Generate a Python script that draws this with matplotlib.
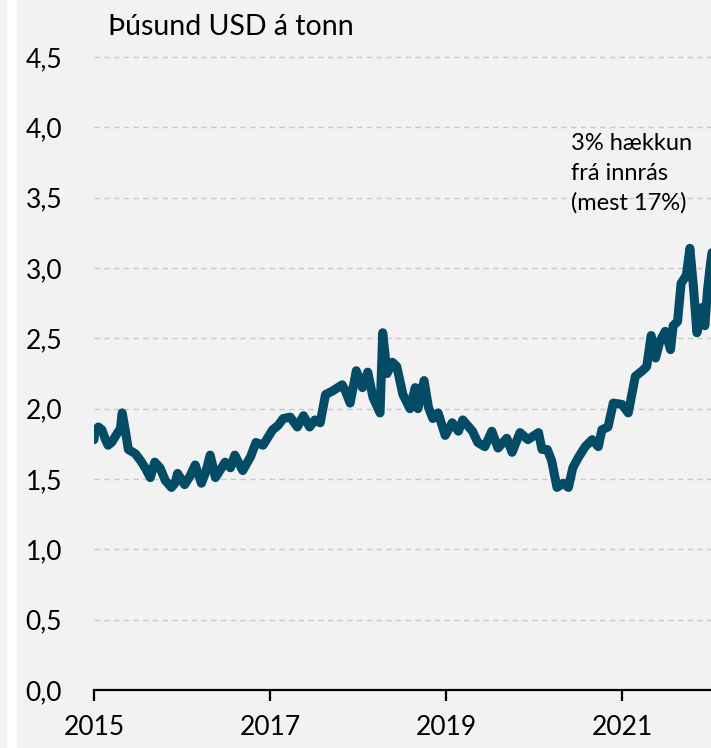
import matplotlib.pyplot as plt
from matplotlib.patches import Rectangle

# Aluminium price, thousand USD per tonne
years = [2015.00, 2015.01, 2015.05, 2015.09, 2015.13, 2015.16, 2015.20, 2015.27, 2015.30, 2015.32,
         2015.34, 2015.36, 2015.39, 2015.47, 2015.53, 2015.59, 2015.64, 2015.69, 2015.75, 2015.81,
         2015.88, 2015.92, 2015.95, 2016.03, 2016.09, 2016.15, 2016.22, 2016.27, 2016.32, 2016.38,
         2016.43, 2016.49, 2016.55, 2016.60, 2016.69, 2016.78, 2016.84, 2016.92, 2016.98, 2017.03,
         2017.09, 2017.15, 2017.23, 2017.31, 2017.38, 2017.45, 2017.51, 2017.57, 2017.63, 2017.72,
         2017.82, 2017.86, 2017.91, 2017.98, 2018.05, 2018.11, 2018.17, 2018.25, 2018.28, 2018.33,
         2018.39, 2018.44, 2018.51, 2018.59, 2018.65, 2018.68, 2018.75, 2018.80, 2018.85, 2018.91,
         2018.99, 2019.07, 2019.14, 2019.19, 2019.30, 2019.36, 2019.44, 2019.52, 2019.59, 2019.69,
         2019.75, 2019.84, 2019.93, 2020.05, 2020.09, 2020.15, 2020.20, 2020.26, 2020.33, 2020.39,
         2020.44, 2020.50, 2020.58, 2020.66, 2020.73, 2020.77, 2020.84, 2020.90, 2021.00, 2021.07,
         2021.15, 2021.23, 2021.28, 2021.33, 2021.38, 2021.43, 2021.49, 2021.55, 2021.58, 2021.63,
         2021.67, 2021.73, 2021.77, 2021.81, 2021.85, 2021.91, 2021.94, 2021.97, 2022.00, 2022.03]
price = [1.78, 1.84, 1.87, 1.85, 1.78, 1.74, 1.76, 1.83, 1.86, 1.97,
         1.90, 1.83, 1.71, 1.68, 1.63, 1.57, 1.51, 1.62, 1.58, 1.49,
         1.44, 1.47, 1.54, 1.46, 1.52, 1.60, 1.47, 1.55, 1.67, 1.51,
         1.56, 1.62, 1.58, 1.67, 1.56, 1.66, 1.76, 1.74, 1.80, 1.85,
         1.88, 1.93, 1.94, 1.87, 1.95, 1.87, 1.92, 1.90, 2.10, 2.13,
         2.17, 2.12, 2.04, 2.27, 2.15, 2.26, 2.08, 1.97, 2.54, 2.25,
         2.33, 2.30, 2.10, 2.00, 2.15, 2.00, 2.20, 2.01, 1.93, 1.97,
         1.81, 1.90, 1.84, 1.92, 1.84, 1.76, 1.73, 1.84, 1.72, 1.79,
         1.69, 1.83, 1.78, 1.83, 1.71, 1.71, 1.63, 1.44, 1.47, 1.44,
         1.58, 1.65, 1.73, 1.78, 1.73, 1.85, 1.87, 2.04, 2.03, 1.97,
         2.23, 2.27, 2.30, 2.52, 2.36, 2.48, 2.55, 2.42, 2.59, 2.62,
         2.89, 2.95, 3.14, 2.87, 2.54, 2.72, 2.59, 2.84, 3.01, 3.15]

yticks = [0.0, 0.5, 1.0, 1.5, 2.0, 2.5, 3.0, 3.5, 4.0, 4.5]
xticks = [2015, 2017, 2019, 2021]

bg = '#f2f2f2'
plt.rcParams['font.family'] = ['Lato', 'DejaVu Sans']

fig = plt.figure(figsize=(7.11, 7.48), dpi=100, facecolor=bg)
# thin white strip at the left edge
fig.patches.append(Rectangle((7 / 711, 0), 10 / 711, 1, transform=fig.transFigure,
                             facecolor='white', edgecolor='none'))

ax = fig.add_axes([94 / 711, 1 - 690 / 748, 1 - 94 / 711, (690 - 43) / 748])
ax.set_facecolor(bg)

ax.plot(years, price, color='#044b66', lw=6.5, solid_joinstyle='round', solid_capstyle='round')

ax.set_xlim(2015, 2022.01)
ax.set_ylim(0, 4.6)
ax.set_yticks(yticks)
ax.set_yticklabels([f'{t:.1f}'.replace('.', ',') for t in yticks])
ax.set_xticks(xticks)
ax.set_xticklabels([str(t) for t in xticks])

for s in ['left', 'right', 'top']:
    ax.spines[s].set_visible(False)
ax.spines['bottom'].set_linewidth(1.6)
ax.spines['bottom'].set_color('black')

ax.tick_params(axis='y', length=0, pad=23, labelsize=19, colors='black')
ax.tick_params(axis='x', length=8, width=1.6, direction='out', pad=10, labelsize=19)

ax.yaxis.grid(True, color='#c8c8c8', linestyle=(0, (4, 3)), linewidth=1)
ax.set_axisbelow(True)
# drop the gridline at zero, it sits under the axis line
ax.get_ygridlines()[0].set_visible(False)

fig.text(108 / 711, 1 - 27 / 748, 'Þúsund USD á tonn', fontsize=20.5, va='center', ha='left')
ax.text(2020.42, 3.96, '3% hækkun\nfrá innrás\n(mest 17%)', fontsize=17, va='top', ha='left',
        linespacing=1.5)

fig.savefig('out.png', dpi=100, facecolor=bg)
